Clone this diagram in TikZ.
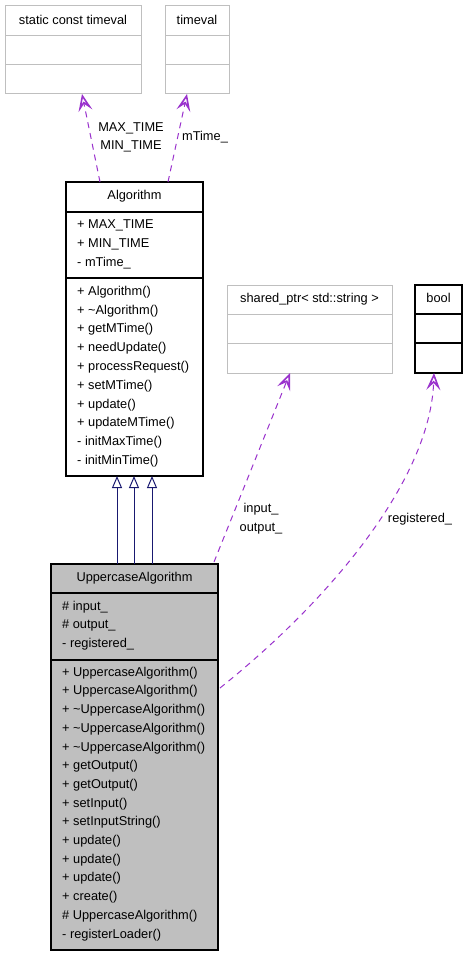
\documentclass[tikz,border=0pt]{standalone}
\usepackage{fontspec}
\setmainfont{Liberation Sans}
\usetikzlibrary{arrows.meta,calc}
\definecolor{grayline}{HTML}{BFBFBF}
\definecolor{depcol}{HTML}{9A32CD}
\definecolor{inhcol}{HTML}{191970}
\definecolor{uafill}{HTML}{BFBFBF}
\begin{document}
\begin{tikzpicture}[x=1pt,y=-1pt,
  every node/.style={font=\fontsize{12.8}{14}\selectfont},
  classbox/.style={draw=black,line width=1.1pt,inner sep=0pt,outer sep=0pt,anchor=north west},
  extbox/.style={draw=grayline,line width=1pt,inner sep=0pt,outer sep=0pt,anchor=north west},
  member/.style={anchor=west,inner sep=0pt,text height=9pt,text depth=2.5pt},
  ttl/.style={anchor=center,inner sep=0pt,text height=9pt,text depth=2.5pt},
  lbl/.style={anchor=center,inner sep=0pt,text height=9pt,text depth=2.5pt},
  dep/.style={draw=depcol,line width=1pt,dash pattern=on 6pt off 5pt,
    -{Stealth[open,length=17pt,width=14pt,inset=7pt,line width=1.6pt]}},
  inh/.style={draw=inhcol,line width=1pt,-{Triangle[open,length=12pt,width=10pt,line width=1pt]}}
]
\useasboundingbox (0,0) rectangle (467,957);
\fill[white] (0,0) rectangle (467,957);

% static const timeval
\node[extbox,minimum width=136pt,minimum height=88pt] (sct) at (5,6) {};
\draw[grayline,line width=1pt] (sct.west |- 0,36) -- (sct.east |- 0,36);
\draw[grayline,line width=1pt] (sct.west |- 0,65) -- (sct.east |- 0,65);
\node[ttl] (sctt) at (73,21) {static const timeval};

% timeval
\node[extbox,minimum width=64pt,minimum height=88pt] (tv) at (165,6) {};
\draw[grayline,line width=1pt] (tv.west |- 0,36) -- (tv.east |- 0,36);
\draw[grayline,line width=1pt] (tv.west |- 0,65) -- (tv.east |- 0,65);
\node[ttl] (tvt) at (197,21) {timeval};

% Algorithm
\node[classbox,fill=white,minimum width=137pt,minimum height=294pt] (alg) at (66,182) {};
\draw[black,line width=1.1pt] (alg.west |- 0,212) -- (alg.east |- 0,212);
\draw[black,line width=1.1pt] (alg.west |- 0,278) -- (alg.east |- 0,278);
\node[ttl] (algt) at (134.5,196.5) {Algorithm};
\node[member] (a1) at (77,225) {+ MAX\_TIME};
\node[member] (a2) at (77,244) {+ MIN\_TIME};
\node[member] (a3) at (77,263) {- mTime\_};
\node[member] (m1) at (77,292) {+ Algorithm()};
\node[member] (m2) at (77,310.8) {+ \textasciitilde Algorithm()};
\node[member] (m3) at (77,329.6) {+ getMTime()};
\node[member] (m4) at (77,348.4) {+ needUpdate()};
\node[member] (m5) at (77,367.2) {+ processRequest()};
\node[member] (m6) at (77,386) {+ setMTime()};
\node[member] (m7) at (77,404.8) {+ update()};
\node[member] (m8) at (77,423.6) {+ updateMTime()};
\node[member] (m9) at (77,442.4) {- initMaxTime()};
\node[member] (m10) at (77,461.2) {- initMinTime()};

% shared_ptr
\node[extbox,minimum width=165pt,minimum height=88pt] (sp) at (227,285) {};
\draw[grayline,line width=1pt] (sp.west |- 0,314) -- (sp.east |- 0,314);
\draw[grayline,line width=1pt] (sp.west |- 0,343) -- (sp.east |- 0,343);
\node[ttl] (spt) at (309.5,299.5) {shared\_ptr< std::string >};

% bool
\node[classbox,minimum width=47pt,minimum height=88pt] (bl) at (415,285) {};
\draw[black,line width=1.1pt] (bl.west |- 0,314) -- (bl.east |- 0,314);
\draw[black,line width=1.1pt] (bl.west |- 0,343) -- (bl.east |- 0,343);
\node[ttl] (blt) at (438.5,299.5) {bool};

% UppercaseAlgorithm
\node[classbox,fill=uafill,minimum width=167pt,minimum height=386pt] (ua) at (51,564) {};
\draw[black,line width=1.1pt] (ua.west |- 0,593) -- (ua.east |- 0,593);
\draw[black,line width=1.1pt] (ua.west |- 0,660) -- (ua.east |- 0,660);
\node[ttl] (uat) at (134.5,578) {UppercaseAlgorithm};
\node[member] (u1) at (62,607) {\# input\_};
\node[member] (u2) at (62,625.5) {\# output\_};
\node[member] (u3) at (62,644) {- registered\_};
\node[member] (v1) at (62,673) {+ UppercaseAlgorithm()};
\node[member] (v2) at (62,691.7) {+ UppercaseAlgorithm()};
\node[member] (v3) at (62,710.4) {+ \textasciitilde UppercaseAlgorithm()};
\node[member] (v4) at (62,729.1) {+ \textasciitilde UppercaseAlgorithm()};
\node[member] (v5) at (62,747.8) {+ \textasciitilde UppercaseAlgorithm()};
\node[member] (v6) at (62,766.5) {+ getOutput()};
\node[member] (v7) at (62,785.2) {+ getOutput()};
\node[member] (v8) at (62,803.9) {+ setInput()};
\node[member] (v9) at (62,822.6) {+ setInputString()};
\node[member] (v10) at (62,841.3) {+ update()};
\node[member] (v11) at (62,860) {+ update()};
\node[member] (v12) at (62,878.7) {+ update()};
\node[member] (v13) at (62,897.4) {+ create()};
\node[member] (v14) at (62,916.1) {\# UppercaseAlgorithm()};
\node[member] (v15) at (62,934.8) {- registerLoader()};

% helper coordinates
\coordinate (x1) at (100,0);
\coordinate (x2) at (82,0);
\coordinate (x3) at (168,0);
\coordinate (x4) at (187,0);
\coordinate (x5) at (117,0);
\coordinate (x6) at (134,0);
\coordinate (x7) at (152,0);
\coordinate (x8) at (214,0);
\coordinate (x9) at (290,0);
\coordinate (x10) at (434,0);
\coordinate (y1) at (0,688);

% dependencies
\draw[dep] (alg.north -| x1) -- (sct.south -| x2);
\draw[dep] (alg.north -| x3) -- (tv.south -| x4);
\draw[dep] ($(ua.north -| x8)+(0,-2)$) -- (sp.south -| x9);
\draw[dep] ($(ua.east |- y1)+(2,0)$) .. controls (330,600) and (430,480) .. (bl.south -| x10);

% inheritance
\draw[inh] (ua.north -| x5) -- (alg.south -| x5);
\draw[inh] (ua.north -| x6) -- (alg.south -| x6);
\draw[inh] (ua.north -| x7) -- (alg.south -| x7);

% labels
\node[lbl] (l1) at (131,128) {MAX\_TIME};
\node[lbl] (l2) at (131,146) {MIN\_TIME};
\node[lbl] (l3) at (205,137) {mTime\_};
\node[lbl] (l4) at (261,509) {input\_};
\node[lbl] (l5) at (261,528) {output\_};
\node[lbl] (l6) at (420,519) {registered\_};
\end{tikzpicture}
\end{document}
